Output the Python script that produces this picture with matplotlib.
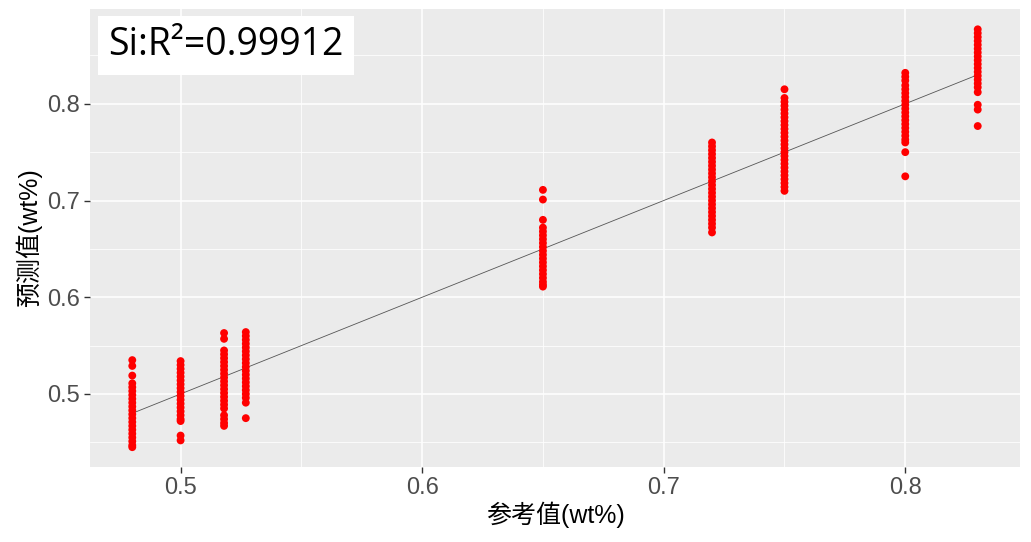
import matplotlib.pyplot as plt
from matplotlib.ticker import MultipleLocator

plt.rcParams['font.family'] = ['Liberation Sans', 'Noto Sans CJK SC', 'DejaVu Sans']

# reference values (wt%) and the predicted values measured at each one
ref_levels = [0.48, 0.50, 0.518, 0.527, 0.65, 0.72, 0.75, 0.80, 0.83]
pred_values = [
    [0.535, 0.529, 0.519, 0.511, 0.507, 0.503, 0.499, 0.495, 0.491, 0.487, 0.483,
     0.479, 0.475, 0.471, 0.467, 0.463, 0.459, 0.455, 0.451, 0.447, 0.445],
    [0.534, 0.530, 0.526, 0.522, 0.518, 0.514, 0.510, 0.506, 0.502, 0.498, 0.494,
     0.490, 0.486, 0.482, 0.478, 0.474, 0.472, 0.457, 0.452],
    [0.563, 0.557, 0.545, 0.541, 0.537, 0.533, 0.529, 0.525, 0.521, 0.517, 0.513,
     0.509, 0.505, 0.501, 0.497, 0.493, 0.489, 0.485, 0.478, 0.474, 0.470, 0.467],
    [0.564, 0.560, 0.556, 0.552, 0.548, 0.544, 0.540, 0.536, 0.532, 0.528, 0.524,
     0.520, 0.516, 0.512, 0.508, 0.504, 0.500, 0.496, 0.491, 0.475],
    [0.711, 0.701, 0.680, 0.672, 0.668, 0.664, 0.660, 0.656, 0.652, 0.648, 0.644,
     0.640, 0.636, 0.632, 0.628, 0.624, 0.620, 0.616, 0.613, 0.611],
    [0.760, 0.756, 0.752, 0.748, 0.744, 0.740, 0.736, 0.732, 0.728, 0.724, 0.720,
     0.716, 0.712, 0.708, 0.704, 0.700, 0.696, 0.692, 0.688, 0.684, 0.680, 0.676,
     0.672, 0.667],
    [0.815, 0.806, 0.802, 0.798, 0.794, 0.790, 0.786, 0.782, 0.778, 0.774, 0.770,
     0.766, 0.762, 0.758, 0.754, 0.750, 0.746, 0.742, 0.738, 0.734, 0.730, 0.726,
     0.722, 0.718, 0.714, 0.710],
    [0.832, 0.828, 0.824, 0.819, 0.815, 0.811, 0.807, 0.803, 0.799, 0.795, 0.791,
     0.787, 0.783, 0.779, 0.775, 0.771, 0.767, 0.763, 0.760, 0.750, 0.725],
    [0.877, 0.873, 0.869, 0.865, 0.861, 0.857, 0.853, 0.849, 0.845, 0.841, 0.837,
     0.833, 0.829, 0.825, 0.821, 0.817, 0.812, 0.799, 0.794, 0.777],
]
r2_label = 'Si:R²=0.99912'

xs, ys = [], []
for x, vals in zip(ref_levels, pred_values):
    xs += [x] * len(vals)
    ys += vals

fig = plt.figure(figsize=(10.31, 5.42), dpi=100)
ax = fig.add_axes([90 / 1031, (542 - 467) / 542, 930 / 1031, 458 / 542])
ax.set_facecolor('#EBEBEB')
for s in ax.spines.values():
    s.set_visible(False)

ax.xaxis.set_major_locator(MultipleLocator(0.1))
ax.xaxis.set_minor_locator(MultipleLocator(0.05))
ax.yaxis.set_major_locator(MultipleLocator(0.1))
ax.yaxis.set_minor_locator(MultipleLocator(0.05))
ax.grid(which='major', color='white', lw=1.1)
ax.grid(which='minor', color='white', lw=0.55)
ax.set_axisbelow(True)
ax.tick_params(which='major', length=4, width=1, color='#333333', labelcolor='#4D4D4D',
               labelsize=17, pad=3)
ax.tick_params(which='minor', length=0)

ax.plot([min(ref_levels), max(ref_levels)], [min(ref_levels), max(ref_levels)],
        color='#555555', lw=0.6, zorder=2)
ax.scatter(xs, ys, s=32, color='red', edgecolors='none', zorder=3)

ax.set_xlim(0.4625, 0.8475)
ax.set_ylim(0.4245, 0.898)
ax.xaxis.set_major_formatter(plt.FuncFormatter(lambda v, p: f'{v:g}'))
ax.yaxis.set_major_formatter(plt.FuncFormatter(lambda v, p: f'{v:g}'))

ax.set_xlabel('参考值(wt%)', fontsize=18, color='black', labelpad=2)
ax.set_ylabel('预测值(wt%)', fontsize=18, color='black', labelpad=4)

ax.text(0.02, 0.962, r2_label, transform=ax.transAxes, fontsize=27, va='top', ha='left',
        family=['Open Sans', 'DejaVu Sans'],
        bbox=dict(boxstyle='square,pad=0.27', fc='white', ec='none'), zorder=5)

fig.savefig('out.png', dpi=100)
